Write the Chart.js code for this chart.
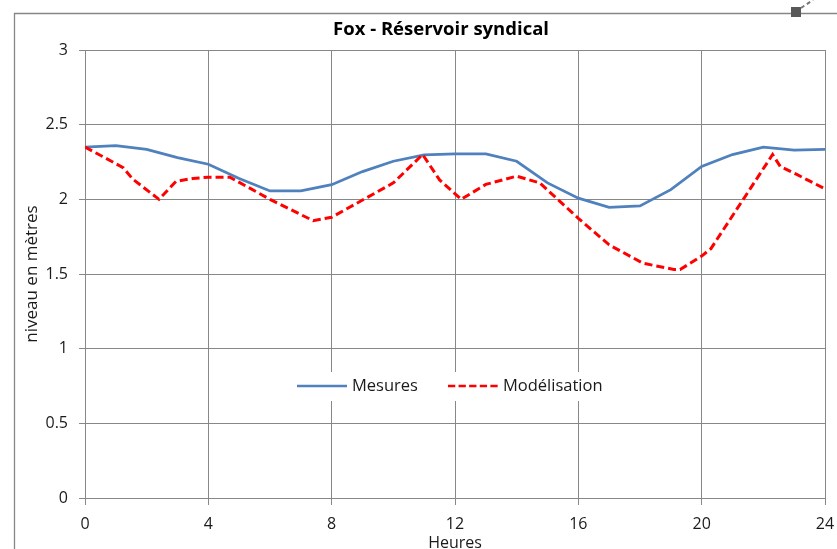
<!DOCTYPE html>
<html><head><meta charset="utf-8">
<script src="https://cdn.jsdelivr.net/npm/chart.js@4/dist/chart.umd.min.js"></script>
<style>html,body{margin:0;padding:0;background:#fff;overflow:hidden}#wrap{width:837px;height:549px;position:relative}</style>
</head><body><div id="wrap"><canvas id="c" width="837" height="549"></canvas></div>
<script>
const chartTitle = 'Fox - Réservoir syndical';
const xAxisTitle = 'Heures';
const yAxisTitle = 'niveau en mètres';
const seriesNames = ['Mesures', 'Modélisation'];
const xTicks = [0, 4, 8, 12, 16, 20, 24];
const yTicks = [0, 0.5, 1, 1.5, 2, 2.5, 3];
const mesuresHours = [0,1,2,3,4,5,6,7,8,9,10,11,12,13,14,15,16,17,18,19,20,21,22,23,24];
const mesuresValues = [2.35,2.36,2.335,2.28,2.235,2.14,2.056,2.056,2.098,2.186,2.255,2.298,2.305,2.305,2.255,2.11,2.008,1.946,1.956,2.065,2.22,2.30,2.35,2.33,2.335];
const modelHours = [0,0.9,1.25,1.55,2.4,2.95,3.5,4,4.7,6,7.4,8,10,10.95,11.5,12.2,13,14,14.75,16,17,18.1,19.1,19.3,20,20.3,21.35,22.3,22.55,23.1,24];
const modelValues = [2.35,2.25,2.21,2.135,2.00,2.12,2.14,2.148,2.148,2.00,1.857,1.88,2.11,2.30,2.13,2.00,2.10,2.155,2.11,1.873,1.695,1.572,1.53,1.53,1.62,1.67,2.00,2.30,2.22,2.165,2.07];

const FONT = 'Open Sans';
const GRID = '#878787';
const BLUE = '#4F81BD';
const RED = '#FF0000';

const decorPlugin = {
  id: 'decor',
  afterDraw(chart) {
    const ctx = chart.ctx;
    ctx.save();
    // outer frame
    ctx.strokeStyle = '#868686';
    ctx.lineWidth = 1.3;
    ctx.beginPath();
    ctx.moveTo(14.5, 549); ctx.lineTo(14.5, 13.5); ctx.lineTo(837, 13.5);
    ctx.stroke();
    ctx.fillStyle = '#595959';
    ctx.fillRect(791, 7, 10, 10);
    ctx.setLineDash([4, 3]);
    ctx.lineWidth = 2;
    ctx.strokeStyle = '#777';
    ctx.beginPath(); ctx.moveTo(801, 8); ctx.lineTo(813, 0); ctx.stroke();
    ctx.setLineDash([]);
    // title
    ctx.fillStyle = '#000';
    ctx.font = 'bold 18.5px "' + FONT + '"';
    ctx.textAlign = 'center';
    ctx.textBaseline = 'middle';
    ctx.fillText(chartTitle, 441, 30);
    // legend
    const y = 386;
    let x = 297;
    ctx.font = '16.5px "' + FONT + '"';
    const ds = chart.data.datasets;
    const w0 = ctx.measureText(ds[0].label).width;
    const w1 = ctx.measureText(ds[1].label).width;
    ctx.fillStyle = '#fff';
    ctx.fillRect(290, 372, 320, 29);
    ds.forEach((d, i) => {
      const len = 50;
      ctx.strokeStyle = d.borderColor;
      ctx.lineWidth = i === 0 ? 2.5 : 2.6;
      ctx.setLineDash(i === 0 ? [] : [7.3, 3.3]);
      ctx.beginPath(); ctx.moveTo(x, y); ctx.lineTo(x + len, y); ctx.stroke();
      ctx.setLineDash([]);
      ctx.fillStyle = '#1a1a1a';
      ctx.textBaseline = 'middle';
      ctx.textAlign = 'left';
      ctx.fillText(d.label, x + len + 5, y);
      x += len + 5 + (i === 0 ? w0 : w1) + 30;
    });
    ctx.restore();
  }
};

new Chart(document.getElementById('c'), {
  type: 'line',
  data: {
    datasets: [
      { label: seriesNames[0], data: mesuresHours.map((h, i) => ({x: h, y: mesuresValues[i]})),
        borderColor: BLUE, borderWidth: 2.8, pointRadius: 0, tension: 0, order: 1 },
      { label: seriesNames[1], data: modelHours.map((h, i) => ({x: h, y: modelValues[i]})),
        borderColor: RED, borderWidth: 3, borderDash: [8, 4], pointRadius: 0, tension: 0, order: 0 }
    ]
  },
  options: {
    responsive: false,
    animation: false,
    devicePixelRatio: 1,
    layout: { padding: { left: 0, right: 12, top: 50, bottom: 0 } },
    plugins: {
      legend: { display: false },
      tooltip: { enabled: false },
      title: { display: false }
    },
    scales: {
      x: {
        type: 'linear', min: 0, max: 24,
        afterBuildTicks: s => { s.ticks = xTicks.map(v => ({value: v})); },
        afterFit: s => { s.height = 51; s.paddingLeft = 0; s.paddingRight = 0; },
        grid: { color: GRID, lineWidth: 1, tickLength: 7, drawTicks: true },
        border: { color: GRID, width: 1 },
        ticks: { color: '#1a1a1a', font: { family: FONT, size: 16 }, padding: 10, maxRotation: 0, autoSkip: false,
                 callback: v => String(v) },
        title: { display: true, text: xAxisTitle, color: '#1a1a1a', font: { family: FONT, size: 16 }, padding: { top: 0, bottom: -4 } }
      },
      y: {
        type: 'linear', min: 0, max: 3,
        afterBuildTicks: s => { s.ticks = yTicks.map(v => ({value: v})); },
        afterFit: s => { s.width = 85; },
        grid: { color: GRID, lineWidth: 1, tickLength: 6 },
        border: { color: GRID, width: 1 },
        ticks: { color: '#1a1a1a', font: { family: FONT, size: 16 }, padding: 11, autoSkip: false,
                 callback: v => String(v) },
        title: { display: true, text: yAxisTitle, color: '#1a1a1a', font: { family: FONT, size: 17 }, padding: { top: 22, bottom: 0 } }
      }
    }
  },
  plugins: [decorPlugin]
});
</script>
</body></html>
